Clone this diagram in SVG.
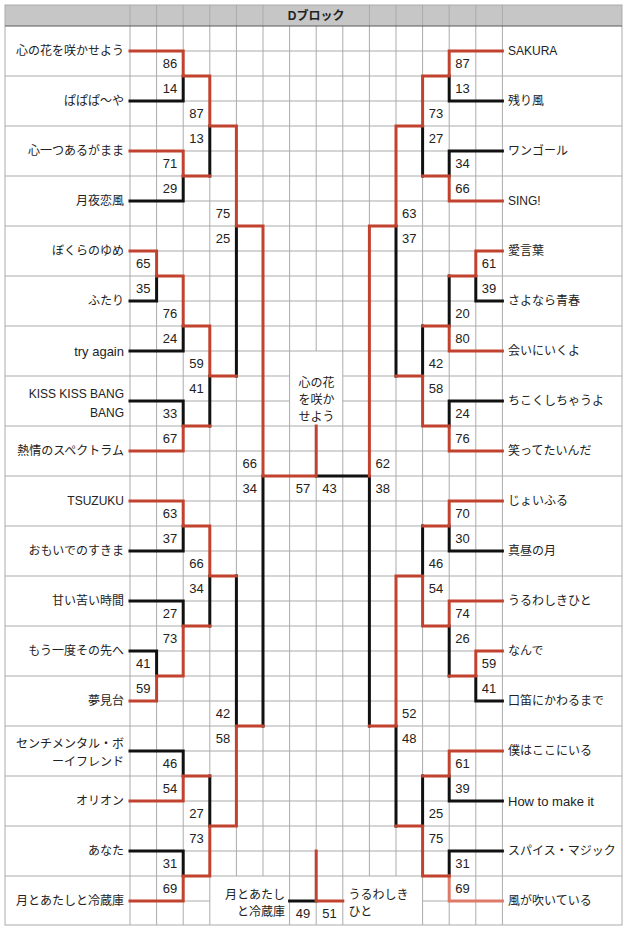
<svg xmlns="http://www.w3.org/2000/svg" width="627" height="931" viewBox="0 0 627 931">
<style>
.grid{fill:none;stroke:#ababab;stroke-width:1}
.hdline{fill:none;stroke:#5a5a5a;stroke-width:1}
.w{fill:none;stroke:#c1432f;stroke-width:3;stroke-linecap:square;stroke-linejoin:miter}
.wl{fill:none;stroke:#dd7a68;stroke-width:3;stroke-linecap:square;stroke-linejoin:miter}
.l{fill:none;stroke:#111111;stroke-width:3;stroke-linecap:square;stroke-linejoin:miter}
text{font-family:"Liberation Sans","Noto Sans CJK JP",sans-serif;fill:#222222}
.nm{font-size:12px}
.lat{font-size:13px}
.nl{text-anchor:end}
.ctr{text-anchor:middle}
.sc{font-size:13px;text-anchor:middle}
.hd{font-size:12px;font-weight:bold;text-anchor:middle}
</style>
<rect x="0" y="0" width="627" height="931" fill="#ffffff"/>
<rect x="5" y="5" width="617" height="21" fill="#c6c6c6"/>
<g id="grid">
<path class="grid" d="M130,5V925M156.6,5V925M183.2,5V925M209.8,5V925M236.4,5V876M263,5V876M289.6,26V925M316.2,26V351M316.2,426V925M342.8,26V925M369.4,5V876M396,5V876M422.6,5V925M449.2,5V925M475.8,5V925M502.4,5V925"/>
<path class="grid" d="M5,76H622M5,126H622M5,176H622M5,226H622M5,276H622M5,326H622M5,426H622M5,476H622M5,526H622M5,576H622M5,626H622M5,676H622M5,726H622M5,776H622M5,826H622M5,876H622M5,376H289.6M342.8,376H622"/>
<path class="grid" d="M130,51H502.4M130,101H502.4M130,151H502.4M130,201H502.4M130,251H502.4M130,301H502.4M130,351H502.4M130,451H502.4M130,501H502.4M130,551H502.4M130,601H502.4M130,651H502.4M130,701H502.4M130,751H502.4M130,801H502.4M130,851H502.4M130,401H289.6M342.8,401H502.4M130,901H209.8M289.6,901H342.8M422.6,901H502.4"/>
<rect class="grid" x="5" y="5" width="617" height="920"/>
<path class="hdline" d="M5,26H622"/>
</g>
<g id="header">
<text class="hd" x="316.2" y="20">Dブロック</text>
</g>
<g id="connectors">
<path class="l" d="M130,101H183.2V76"/>
<path class="l" d="M130,201H183.2V176M209.8,176V126"/>
<path class="l" d="M130,301H156.6V276"/>
<path class="l" d="M130,351H183.2V326"/>
<path class="l" d="M130,401H183.2V426M209.8,426V376M236.4,376V226"/>
<path class="l" d="M130,551H183.2V526"/>
<path class="l" d="M130,601H183.2V626M209.8,626V576"/>
<path class="l" d="M130,651H156.6V676"/>
<path class="l" d="M236.4,576V726M263,726V476"/>
<path class="l" d="M130,751H183.2V776M209.8,776V826"/>
<path class="l" d="M130,851H183.2V876"/>
<path class="l" d="M316.2,476H369.4V726"/>
<path class="l" d="M289.6,901H316.2"/>
<path class="l" d="M502.4,101H449.2V76"/>
<path class="l" d="M502.4,151H449.2V176M422.6,176V126"/>
<path class="l" d="M502.4,301H475.8V276M449.2,276V326"/>
<path class="l" d="M422.6,326V376M396,376V226"/>
<path class="l" d="M502.4,401H449.2V426"/>
<path class="l" d="M502.4,551H449.2V526M422.6,526V576"/>
<path class="l" d="M502.4,701H475.8V676M449.2,676V626"/>
<path class="l" d="M502.4,801H449.2V776M422.6,776V826"/>
<path class="l" d="M502.4,851H449.2V876M396,826V726"/>
<path class="wl" d="M502.4,901H449.2V876"/>
<path class="w" d="M130,51H183.2V76H209.8V126H236.4V226H263V476H316.2V426"/>
<path class="w" d="M130,151H183.2V176H209.8"/>
<path class="w" d="M130,251H156.6V276H183.2V326H209.8V376H236.4"/>
<path class="w" d="M130,451H183.2V426H209.8"/>
<path class="w" d="M130,501H183.2V526H209.8V576H236.4"/>
<path class="w" d="M130,701H156.6V676H183.2V626H209.8"/>
<path class="w" d="M130,801H183.2V776H209.8"/>
<path class="w" d="M130,901H183.2V876H209.8V826H236.4V726H263"/>
<path class="w" d="M316.2,851V901H342.8"/>
<path class="w" d="M502.4,51H449.2V76H422.6V126H396V226H369.4V476"/>
<path class="w" d="M502.4,201H449.2V176H422.6"/>
<path class="w" d="M502.4,251H475.8V276H449.2"/>
<path class="w" d="M502.4,351H449.2V326H422.6"/>
<path class="w" d="M502.4,451H449.2V426H422.6V376H396"/>
<path class="w" d="M502.4,501H449.2V526H422.6"/>
<path class="w" d="M502.4,601H449.2V626H422.6V576H396V726H369.4"/>
<path class="w" d="M502.4,651H475.8V676H449.2"/>
<path class="w" d="M502.4,751H449.2V776H422.6"/>
<path class="w" d="M449.2,876H422.6V826H396"/>
</g>
<g id="scores" class="sc">
<text class="sc" x="169.9" y="68.2">86</text>
<text class="sc" x="169.9" y="93.2">14</text>
<text class="sc" x="196.5" y="118.2">87</text>
<text class="sc" x="196.5" y="143.2">13</text>
<text class="sc" x="169.9" y="168.2">71</text>
<text class="sc" x="169.9" y="193.2">29</text>
<text class="sc" x="223.1" y="218.2">75</text>
<text class="sc" x="223.1" y="243.2">25</text>
<text class="sc" x="143.3" y="268.2">65</text>
<text class="sc" x="143.3" y="293.2">35</text>
<text class="sc" x="169.9" y="318.2">76</text>
<text class="sc" x="169.9" y="343.2">24</text>
<text class="sc" x="196.5" y="368.2">59</text>
<text class="sc" x="196.5" y="393.2">41</text>
<text class="sc" x="169.9" y="418.2">33</text>
<text class="sc" x="169.9" y="443.2">67</text>
<text class="sc" x="249.7" y="468.2">66</text>
<text class="sc" x="249.7" y="493.2">34</text>
<text class="sc" x="169.9" y="518.2">63</text>
<text class="sc" x="169.9" y="543.2">37</text>
<text class="sc" x="196.5" y="568.2">66</text>
<text class="sc" x="196.5" y="593.2">34</text>
<text class="sc" x="169.9" y="618.2">27</text>
<text class="sc" x="169.9" y="643.2">73</text>
<text class="sc" x="143.3" y="668.2">41</text>
<text class="sc" x="143.3" y="693.2">59</text>
<text class="sc" x="223.1" y="718.2">42</text>
<text class="sc" x="223.1" y="743.2">58</text>
<text class="sc" x="169.9" y="768.2">46</text>
<text class="sc" x="169.9" y="793.2">54</text>
<text class="sc" x="196.5" y="818.2">27</text>
<text class="sc" x="196.5" y="843.2">73</text>
<text class="sc" x="169.9" y="868.2">31</text>
<text class="sc" x="169.9" y="893.2">69</text>
<text class="sc" x="302.9" y="493.2">57</text>
<text class="sc" x="329.5" y="493.2">43</text>
<text class="sc" x="302.9" y="918">49</text>
<text class="sc" x="329.5" y="918">51</text>
<text class="sc" x="462.5" y="68.2">87</text>
<text class="sc" x="462.5" y="93.2">13</text>
<text class="sc" x="435.9" y="118.2">73</text>
<text class="sc" x="435.9" y="143.2">27</text>
<text class="sc" x="462.5" y="168.2">34</text>
<text class="sc" x="462.5" y="193.2">66</text>
<text class="sc" x="409.3" y="218.2">63</text>
<text class="sc" x="409.3" y="243.2">37</text>
<text class="sc" x="489.1" y="268.2">61</text>
<text class="sc" x="489.1" y="293.2">39</text>
<text class="sc" x="462.5" y="318.2">20</text>
<text class="sc" x="462.5" y="343.2">80</text>
<text class="sc" x="435.9" y="368.2">42</text>
<text class="sc" x="435.9" y="393.2">58</text>
<text class="sc" x="462.5" y="418.2">24</text>
<text class="sc" x="462.5" y="443.2">76</text>
<text class="sc" x="382.7" y="468.2">62</text>
<text class="sc" x="382.7" y="493.2">38</text>
<text class="sc" x="462.5" y="518.2">70</text>
<text class="sc" x="462.5" y="543.2">30</text>
<text class="sc" x="435.9" y="568.2">46</text>
<text class="sc" x="435.9" y="593.2">54</text>
<text class="sc" x="462.5" y="618.2">74</text>
<text class="sc" x="462.5" y="643.2">26</text>
<text class="sc" x="489.1" y="668.2">59</text>
<text class="sc" x="489.1" y="693.2">41</text>
<text class="sc" x="409.3" y="718.2">52</text>
<text class="sc" x="409.3" y="743.2">48</text>
<text class="sc" x="462.5" y="768.2">61</text>
<text class="sc" x="462.5" y="793.2">39</text>
<text class="sc" x="435.9" y="818.2">25</text>
<text class="sc" x="435.9" y="843.2">75</text>
<text class="sc" x="462.5" y="868.2">31</text>
<text class="sc" x="462.5" y="893.2">69</text>
</g>
<g id="L01"><text class="nm nl" x="124" y="55.3">心の花を咲かせよう</text></g>
<g id="L02"><text class="nm nl" x="124" y="105.3">ぱぱぱ〜や</text></g>
<g id="L03"><text class="nm nl" x="124" y="155.3">心一つあるがまま</text></g>
<g id="L04"><text class="nm nl" x="124" y="205.3">月夜恋風</text></g>
<g id="L05"><text class="nm nl" x="124" y="255.3">ぼくらのゆめ</text></g>
<g id="L06"><text class="nm nl" x="124" y="305.3">ふたり</text></g>
<g id="L07"><text class="nm lat nl" x="124" y="355.5">try again</text></g>
<g id="L08"><text class="nm nl" x="124" y="398.3">KISS KISS BANG</text><text class="nm nl" x="124" y="417.3">BANG</text></g>
<g id="L09"><text class="nm nl" x="124" y="455.3">熱情のスペクトラム</text></g>
<g id="L10"><text class="nm nl" x="124" y="505.3">TSUZUKU</text></g>
<g id="L11"><text class="nm nl" x="124" y="555.3">おもいでのすきま</text></g>
<g id="L12"><text class="nm nl" x="124" y="605.3">甘い苦い時間</text></g>
<g id="L13"><text class="nm nl" x="124" y="655.3">もう一度その先へ</text></g>
<g id="L14"><text class="nm nl" x="124" y="705.3">夢見台</text></g>
<g id="L15"><text class="nm nl" x="124" y="748.3">センチメンタル・ボ</text><text class="nm nl" x="124" y="766.3">ーイフレンド</text></g>
<g id="L16"><text class="nm nl" x="124" y="805.3">オリオン</text></g>
<g id="L17"><text class="nm nl" x="124" y="855.3">あなた</text></g>
<g id="L18"><text class="nm nl" x="124" y="905.3">月とあたしと冷蔵庫</text></g>
<g id="R01"><text class="nm" x="508" y="55.3">SAKURA</text></g>
<g id="R02"><text class="nm" x="508" y="105.3">残り風</text></g>
<g id="R03"><text class="nm" x="508" y="155.3">ワンゴール</text></g>
<g id="R04"><text class="nm" x="508" y="205.3">SING!</text></g>
<g id="R05"><text class="nm" x="508" y="255.3">愛言葉</text></g>
<g id="R06"><text class="nm" x="508" y="305.3">さよなら青春</text></g>
<g id="R07"><text class="nm" x="508" y="355.3">会いにいくよ</text></g>
<g id="R08"><text class="nm" x="508" y="405.3">ちこくしちゃうよ</text></g>
<g id="R09"><text class="nm" x="508" y="455.3">笑ってたいんだ</text></g>
<g id="R10"><text class="nm" x="508" y="505.3">じょいふる</text></g>
<g id="R11"><text class="nm" x="508" y="555.3">真昼の月</text></g>
<g id="R12"><text class="nm" x="508" y="605.3">うるわしきひと</text></g>
<g id="R13"><text class="nm" x="508" y="655.3">なんで</text></g>
<g id="R14"><text class="nm" x="508" y="705.3">口笛にかわるまで</text></g>
<g id="R15"><text class="nm" x="508" y="755.3">僕はここにいる</text></g>
<g id="R16"><text class="nm lat" x="508" y="805.5">How to make it</text></g>
<g id="R17"><text class="nm" x="508" y="855.3">スパイス・マジック</text></g>
<g id="R18"><text class="nm" x="508" y="905.3">風が吹いている</text></g>
<g id="champion"><text class="nm ctr" x="316.5" y="386.5">心の花</text><text class="nm ctr" x="316.5" y="404">を咲か</text><text class="nm ctr" x="316.5" y="421">せよう</text></g>
<g id="extra-left"><text class="nm nl" x="285" y="898.5">月とあたし</text><text class="nm nl" x="285" y="915.5">と冷蔵庫</text></g>
<g id="extra-right"><text class="nm" x="348.5" y="898.5">うるわしき</text><text class="nm" x="348.5" y="915.5">ひと</text></g>
</svg>
